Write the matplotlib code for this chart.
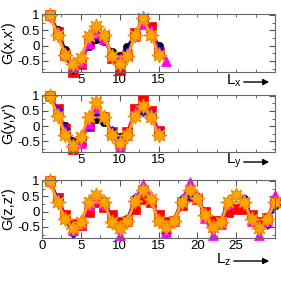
import matplotlib
matplotlib.use("Agg")
import matplotlib.pyplot as plt
from matplotlib.ticker import MultipleLocator, FixedLocator
from matplotlib.patches import FancyArrowPatch

plt.rcParams["font.family"] = ["Liberation Sans", "DejaVu Sans"]
plt.rcParams["mathtext.fontset"] = "custom"
plt.rcParams["mathtext.rm"] = "Liberation Sans"
plt.rcParams["mathtext.it"] = "Liberation Sans"

# G(x,x')
x_site = list(range(1, 16))
x_site_m = list(range(1, 17))
gx_black = [1.0, 0.5, -0.15, -0.7, -0.5, 0.0, 0.2, 0.15, -0.2, -0.35, -0.05, 0.4, 0.8, 0.5, 0.0]
gx_red = [1.0, 0.45, -0.3, -0.85, -0.6, 0.1, 0.4, 0.3, -0.4, -0.8, -0.3, 0.4, 0.85, 0.6, -0.2]
gx_blue = [1.0, 0.4, -0.25, -0.75, -0.5, 0.1, 0.35, 0.25, -0.3, -0.55, -0.2, 0.4, 0.85, 0.45, -0.15]
gx_magenta = [1.0, 0.4, -0.25, -0.65, -0.55, 0.1, 0.4, 0.2, -0.3, -0.4, -0.3, 0.3, 0.7, 0.5, -0.2, -0.5]
gx_orange = [1.0, 0.35, -0.3, -0.6, -0.4, 0.3, 0.65, 0.35, -0.35, -0.6, -0.35, 0.35, 0.9, 0.35, -0.3]

# G(y,y')
y_site = list(range(1, 16))
gy_black = [1.0, 0.4, 0.0, -0.5, -0.4, 0.0, 0.25, 0.15, -0.15, -0.35, -0.2, 0.4, 0.6, 0.4, -0.2]
gy_red = [1.0, 0.55, -0.1, -0.75, -0.5, 0.0, 0.45, 0.3, -0.2, -0.6, -0.2, 0.55, 0.85, 0.5, -0.15]
gy_blue = [1.0, 0.5, -0.1, -0.6, -0.45, 0.0, 0.5, 0.2, -0.15, -0.45, -0.3, 0.4, 0.5, 0.4, -0.2]
gy_magenta = [1.0, 0.45, -0.2, -0.7, -0.55, 0.1, 0.6, 0.35, -0.25, -0.7, -0.3, 0.45, 0.7, 0.4, -0.2]
gy_orange = [1.0, 0.35, -0.3, -0.65, -0.35, 0.3, 0.8, 0.3, -0.3, -0.55, -0.3, 0.35, 0.65, 0.3, -0.3]

# G(z,z')
z_site = list(range(1, 31))
gz_black = [1.0, 0.4, -0.2, -0.6, -0.4, 0.3, 0.35, 0.35, -0.3, -0.5, -0.25, 0.4, 0.75, 0.4, -0.3,
            -0.6, -0.3, 0.35, 0.6, 0.45, -0.15, -0.5, -0.3, 0.3, 0.55, 0.4, -0.2, -0.5, -0.4, 0.2]
gz_red = [1.0, 0.45, -0.1, -0.4, -0.45, 0.0, 0.3, 0.15, -0.1, -0.35, -0.3, 0.1, 0.4, 0.3, -0.1,
          -0.35, -0.3, 0.2, 0.5, 0.4, 0.0, -0.3, -0.3, 0.0, 0.1, 0.1, -0.1, -0.35, -0.2, 0.3]
gz_blue = [1.0, 0.4, -0.25, -0.7, -0.45, 0.25, 0.4, 0.3, -0.3, -0.55, -0.25, 0.45, 0.8, 0.45, -0.3,
           -0.7, -0.3, 0.4, 0.55, 0.5, -0.1, -0.55, -0.3, 0.3, 0.55, 0.4, -0.25, -0.55, -0.4, 0.2]
gz_magenta = [1.0, 0.35, -0.2, -0.6, -0.4, 0.2, 0.4, 0.25, -0.35, -0.75, -0.3, 0.4, 0.9, 0.5, -0.25,
              -0.65, -0.3, 0.35, 0.95, 0.5, -0.2, -0.75, -0.4, 0.25, 0.6, 0.35, -0.3, -0.75, -0.3, 0.55]
gz_orange = [1.0, 0.3, -0.25, -0.55, -0.35, 0.3, 0.55, 0.3, -0.35, -0.55, -0.3, 0.35, 0.7, 0.4, -0.3,
             -0.5, -0.3, 0.3, 0.7, 0.45, -0.1, -0.5, -0.35, 0.3, 0.55, 0.3, -0.25, -0.55, -0.25, 0.3]

ylabels = ["G(x,x')", "G(y,y')", "G(z,z')"]
axis_names = ["x", "y", "z"]

fig = plt.figure(figsize=(2.81, 2.81), dpi=100)
W = 281.0
rects = [(14, 72), (95, 152), (180, 238)]
axes = []
for top, bot in rects:
    ax = fig.add_axes([42 / W, 1 - bot / W, 233 / W, (bot - top) / W])
    axes.append(ax)

panels = [
    ((x_site, gx_black), (x_site, gx_red), (x_site, gx_blue), (x_site_m, gx_magenta), (x_site, gx_orange)),
    ((y_site, gy_black), (y_site, gy_red), (y_site, gy_blue), (y_site, gy_magenta), (y_site, gy_orange)),
    ((z_site, gz_black), (z_site, gz_red), (z_site, gz_blue), (z_site, gz_magenta), (z_site, gz_orange)),
]

styles = [
    dict(color="black", marker="o", ms=6),
    dict(color="#ff0000", marker="s", ms=7),
    dict(color="#0000ff", marker="D", ms=5),
    dict(color="#ff00ff", marker="^", ms=7.5),
    dict(color="#ffa500", marker=(8, 1, 0), ms=11, mec="#f08c00", mew=0.8),
]

for i, (ax, data) in enumerate(zip(axes, panels)):
    for (xs, ys), st in zip(data, styles):
        st = dict(st)
        mec = st.pop("mec", st["color"])
        mew = st.pop("mew", 0.5)
        ax.plot(xs, ys, lw=2.0, mec=mec, mfc=st["color"], mew=mew, **st, clip_on=False)

    ax.set_xlim(0, 30)
    ax.set_ylim(-0.86, 1.03)
    ax.xaxis.set_minor_locator(MultipleLocator(2.5))
    ax.yaxis.set_major_locator(FixedLocator([-0.5, 0, 0.5, 1]))
    ax.yaxis.set_minor_locator(MultipleLocator(0.25))
    ax.set_yticklabels(["-0.5", "0", "0.5", "1"])
    if i < 2:
        ax.xaxis.set_major_locator(FixedLocator([5, 10, 15]))
        ax.set_xticklabels(["5", "10", "15"])
    else:
        ax.xaxis.set_major_locator(FixedLocator([0, 5, 10, 15, 20, 25]))
        ax.set_xticklabels(["0", "5", "10", "15", "20", "25"])
    ax.tick_params(which="both", direction="in", top=True, right=True,
                   labelsize=9.5, pad=1.5, color="#555555")
    ax.tick_params(which="major", length=4)
    ax.tick_params(which="minor", length=2)
    for sp in ax.spines.values():
        sp.set_color("#666666")
        sp.set_linewidth(0.8)
    ax.set_ylabel(ylabels[i], fontsize=10.5, labelpad=1)

# axis name with arrow under each panel
for ax, name, (top, bot), lx in zip(axes, axis_names, rects, [226, 226, 216]):
    yy = bot + 9 if ax is not axes[2] else bot + 22
    fig.text(lx / W, 1 - yy / W, r"$\mathrm{L}_\mathrm{" + name + "}$", fontsize=11,
             ha="left", va="center")
    ax0 = lx + 15
    fig.add_artist(FancyArrowPatch(
        (ax0 / W, 1 - (yy + 1) / W), (272 / W, 1 - (yy + 1) / W), transform=fig.transFigure,
        arrowstyle="-|>", mutation_scale=9, color="black", lw=1.0))

fig.savefig("out.png", dpi=100)
